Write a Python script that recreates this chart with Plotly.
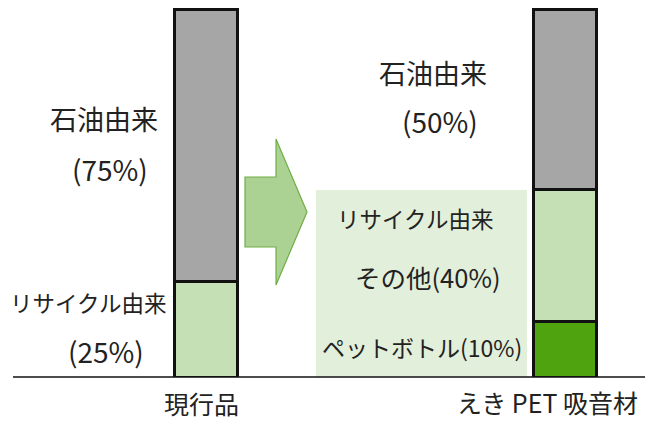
import plotly.graph_objects as go

# ---- data ----
categories = ["現行品", "えき PET 吸音材"]
petbottle = [0, 15]          # リサイクル由来 ペットボトル
recycle_other = [26, 36]     # リサイクル由来 (その他)
petroleum = [74, 49]         # 石油由来

W, H = 645, 421
PLOT_H = 377  # plot area height (baseline y pixel)
FONT = "Noto Sans CJK JP"
TXT = "#222222"

def px(x):
    return x / W

def py(y):
    return (PLOT_H - y) / PLOT_H

fig = go.Figure()
bar_w = 63 / 359
line = dict(color="#111111", width=3)
fig.add_trace(go.Bar(x=categories, y=petbottle, width=bar_w,
                     marker=dict(color="#4ea30f", line=line)))
fig.add_trace(go.Bar(x=categories, y=recycle_other, width=bar_w,
                     marker=dict(color="#c5e0b4", line=line)))
fig.add_trace(go.Bar(x=categories, y=petroleum, width=bar_w,
                     marker=dict(color="#a6a6a6", line=line)))

shapes = []
# light green background box
shapes.append(dict(type="rect", xref="paper", yref="paper",
                   x0=px(316), x1=px(527), y0=py(377), y1=py(190),
                   fillcolor="#e2efda", line=dict(width=0), layer="below"))
# arrow
pts = [(245, 177), (276, 177), (276, 139), (307, 212), (276, 285), (276, 247), (245, 247)]
path = "M " + " L ".join(f"{px(x):.5f},{py(y):.5f}" for x, y in pts) + " Z"
shapes.append(dict(type="path", xref="paper", yref="paper", path=path,
                   fillcolor="#abd193", line=dict(color="#70ad47", width=1.2), layer="below"))
# baseline
shapes.append(dict(type="line", xref="paper", yref="paper",
                   x0=px(13), x1=1, y0=0, y1=0,
                   line=dict(color="#111111", width=1.5), layer="below"))

ann = []
def label(text, x, y, size):
    ann.append(dict(text=text, x=px(x), y=py(y), xref="paper", yref="paper",
                    showarrow=False, xanchor="center", yanchor="middle",
                    font=dict(family=FONT, size=size, color=TXT)))

label("石油由来", 104, 118, 27)
label("(75%)", 110, 169, 28)
label("リサイクル由来", 88, 302, 22.5)
label("(25%)", 106, 351, 28)
label("石油由来", 433, 72, 27)
label("(50%)", 440, 121, 28)
label("リサイクル由来", 415, 218, 22.5)
label("その他(40%)", 428, 276, 25.5)
label("ペットボトル(10%)", 422, 347, 23)
label(categories[0], 201, 403, 25)
label(categories[1], 547, 402, 25)

fig.update_layout(
    barmode="stack",
    width=W, height=H,
    margin=dict(l=0, r=0, t=0, b=H - PLOT_H),
    paper_bgcolor="white", plot_bgcolor="white",
    showlegend=False,
    shapes=shapes, annotations=ann,
    xaxis=dict(range=[-0.5752, 1.2215], showticklabels=False, showgrid=False,
               zeroline=False, showline=False, ticks=""),
    yaxis=dict(range=[0, PLOT_H / 3.675], visible=False, showgrid=False, zeroline=False),
)
fig.write_html("out.html", config={"displayModeBar": False},
               post_script="document.body.style.margin='0';")
